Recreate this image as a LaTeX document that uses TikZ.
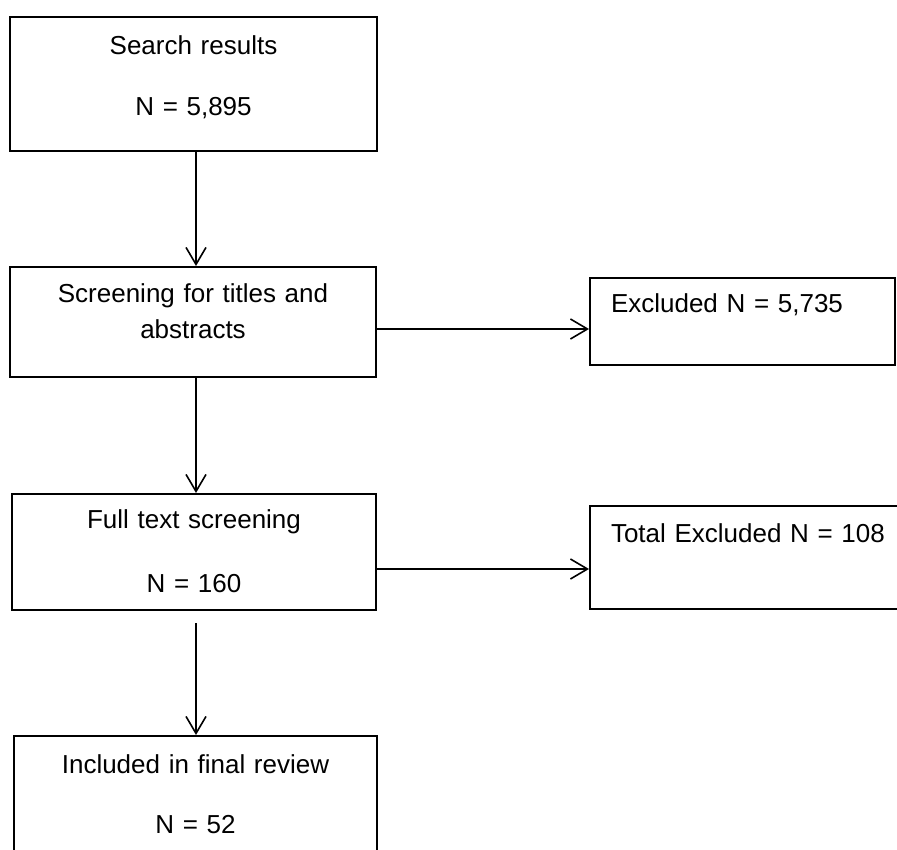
\documentclass[tikz,border=0pt]{standalone}
\usepackage{fontspec}
\setmainfont{Liberation Sans}
\usetikzlibrary{arrows.meta,positioning,calc}
\tikzset{x=0.5pt, y=-0.5pt}
\tikzstyle{stage}=[draw, line width=1pt, rectangle, anchor=north west, inner xsep=5pt, inner ysep=0pt, align=center, font={\fontsize{13}{17.5}\selectfont}]
\tikzstyle{excl}=[stage, align=left, inner xsep=10.5pt]
\tikzstyle{arrow}=[line width=0.8pt, -{Straight Barb[length=8.5pt,width=10pt,line width=0.8pt]}]

\begin{document}
\begin{tikzpicture}
        \useasboundingbox (0,0) rectangle (897,849);
        \node[stage, text width=173.5pt, text height=19pt, text depth=48pt] (search) at (9,16) {Search results\\[13pt]N = 5,895};
        \node[stage, text width=173pt, text height=18pt, text depth=37pt] (screen) at (9,266) {Screening for titles and\\abstracts};
        \node[stage, text width=172pt, text height=17pt, text depth=41pt] (full) at (11,493) {Full text screening\\[14.5pt]N = 160};
        \node[stage, text width=171.5pt, text height=18.5pt, text depth=60pt] (incl) at (13,735) {Included in final review\\[12.5pt]N = 52};
        \node[excl, text width=131.5pt, text height=17.5pt, text depth=26pt] (excluded) at (589,277) {Excluded N = 5,735};
        \node[excl, text width=144pt, text height=18pt, text depth=33.5pt] (total) at (589,505) {Total Excluded N = 108};
        \draw ([xshift=1.25pt]search.south) edge[arrow] ([xshift=1.25pt]search.south |- screen.north);
        \draw ([xshift=1.5pt]screen.south) edge[arrow] ([xshift=1.5pt]screen.south |- full.north);
        \draw ([xshift=1pt]full.south) edge[arrow, shorten <=6pt] ([xshift=1pt]full.south |- incl.north);
        \draw[arrow] ([yshift=-3.5pt]screen.east) -- ([yshift=-3.5pt]screen.east -| excluded.west);
        \draw[arrow] ([yshift=-8.5pt]full.east) -- ([yshift=-8.5pt]full.east -| total.west);
\end{tikzpicture}
\end{document}
